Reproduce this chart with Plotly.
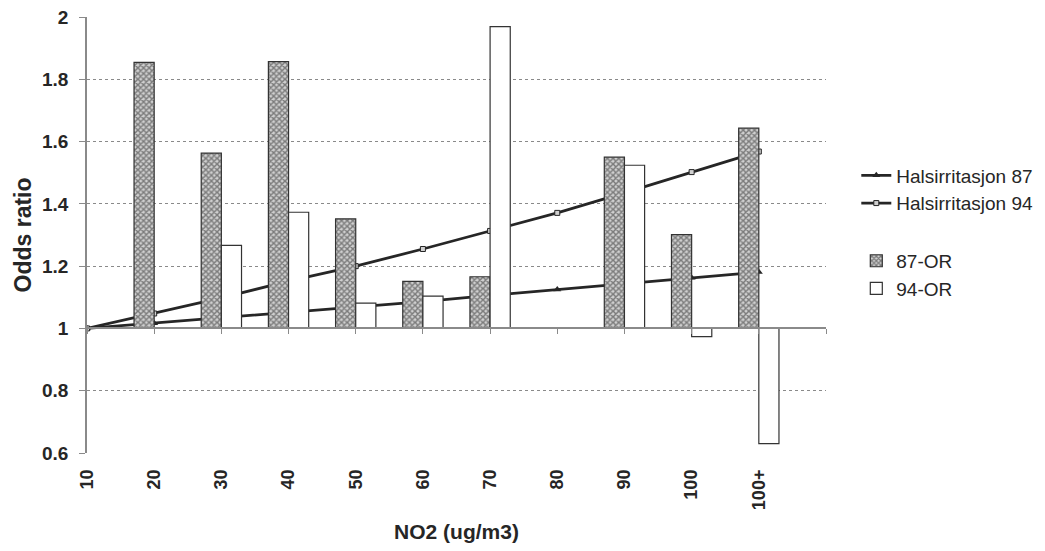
import plotly.graph_objects as go

categories = ["10", "20", "30", "40", "50", "60", "70", "80", "90", "100", "100+"]
hals87 = [1.0, 1.017, 1.034, 1.052, 1.068, 1.086, 1.106, 1.125, 1.144, 1.163, 1.181]
hals94 = [1.0, 1.048, 1.098, 1.152, 1.200, 1.255, 1.313, 1.371, 1.435, 1.502, 1.568]
or87 = [1.0, 1.854, 1.563, 1.857, 1.352, 1.151, 1.166, 1.0, 1.550, 1.301, 1.643]
or94 = [1.0, 1.0, 1.267, 1.373, 1.081, 1.104, 1.969, 1.0, 1.524, 0.974, 0.630]
y_ticks = [0.6, 0.8, 1.0, 1.2, 1.4, 1.6, 1.8, 2.0]
y_tick_text = ["0.6", "0.8", "1", "1.2", "1.4", "1.6", "1.8", "2"]
baseline = 1.0

xpos = list(range(len(categories)))
FONT = "Liberation Sans, Arial, sans-serif"
INK = "#262626"

fig = go.Figure()

fig.add_trace(go.Scatter(
    x=xpos, y=hals87, name="Halsirritasjon 87", mode="lines+markers",
    line=dict(color=INK, width=2.8),
    marker=dict(symbol="triangle-up", size=7, color=INK),
    legendgroup="lines", xaxis="x", yaxis="y"))
fig.add_trace(go.Scatter(
    x=xpos, y=hals94, name="Halsirritasjon 94", mode="lines+markers",
    line=dict(color=INK, width=2.8),
    marker=dict(symbol="square", size=5, color="#d0d0d0", line=dict(color=INK, width=1)),
    legendgroup="lines", xaxis="x", yaxis="y"))

fig.add_trace(go.Bar(
    x=xpos, y=[v - baseline for v in or87], base=baseline, name="87-OR",
    marker=dict(color="#b5b5b5", line=dict(color="#333333", width=1.2),
                pattern=dict(shape="x", size=4, solidity=0.6, fgcolor="#262626", bgcolor="#d0d0d0")),
    legendgroup="bars", xaxis="x2", yaxis="y2"))
fig.add_trace(go.Bar(
    x=xpos, y=[v - baseline for v in or94], base=baseline, name="94-OR",
    marker=dict(color="white", line=dict(color="#333333", width=1.2)),
    legendgroup="bars", xaxis="x2", yaxis="y2"))

ntick = len(categories) + 1
xrange = [0, len(categories)]
yrange = [y_ticks[0], y_ticks[-1]]
base_frac = (baseline - yrange[0]) / (yrange[1] - yrange[0])

fig.update_layout(
    width=1045, height=551,
    margin=dict(l=87, r=219, t=17, b=98, autoexpand=False),
    paper_bgcolor="white", plot_bgcolor="white",
    font=dict(family=FONT, color=INK, size=14),
    barmode="group", bargap=0.4, bargroupgap=0,
    showlegend=True,
    legend=dict(x=1.041, y=0.68, xanchor="left", yanchor="top",
                traceorder="grouped", tracegroupgap=30,
                font=dict(family=FONT, size=19, color=INK),
                itemwidth=30, bgcolor="rgba(0,0,0,0)"),
    xaxis=dict(range=xrange, tickmode="array", tickvals=xpos, ticktext=categories,
               tickangle=-90, showgrid=False, showline=False, zeroline=False, ticks="",
               automargin=False,
               tickfont=dict(family=FONT, size=18, color=INK, weight="bold"),
               ticklabelstandoff=12,
               title=dict(text="<b>NO2 (ug/m3)</b>", font=dict(family=FONT, size=21, color=INK), standoff=15)),
    yaxis=dict(range=yrange, tickmode="array", tickvals=y_ticks, ticktext=y_tick_text,
               showgrid=True, gridcolor="#8a8a8a", griddash="dot", gridwidth=1,
               showline=True, linecolor="#8a8a8a", linewidth=1.5,
               ticks="outside", ticklen=6, tickcolor="#8a8a8a", zeroline=False,
               automargin=False,
               tickfont=dict(family=FONT, size=19, color=INK, weight="bold"),
               ticklabelstandoff=7,
               title=dict(text="<b>Odds ratio</b>", font=dict(family=FONT, size=23, color=INK), standoff=4)),
    xaxis2=dict(range=xrange, overlaying="x", anchor="free", position=base_frac,
                tickmode="array", tickvals=list(range(ntick)), showticklabels=False,
                showline=True, linecolor="#8a8a8a", linewidth=1.5,
                ticks="outside", ticklen=5, tickcolor="#8a8a8a",
                showgrid=False, zeroline=False, automargin=False),
    yaxis2=dict(range=yrange, overlaying="y", visible=False, showgrid=False, zeroline=False),
)

fig.write_html("out.html")
